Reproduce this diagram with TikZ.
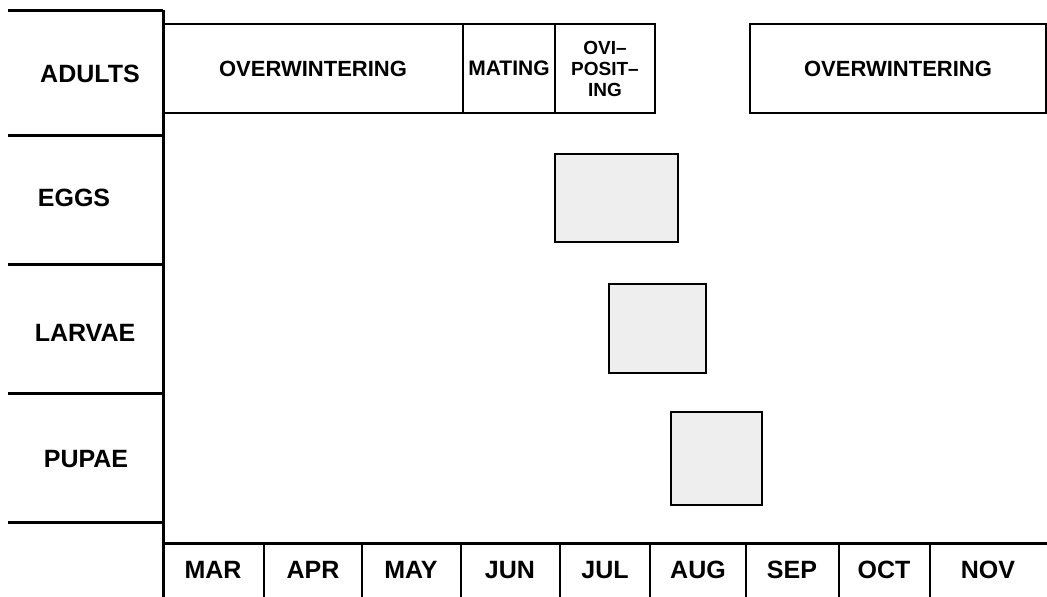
\documentclass[tikz,border=0pt]{standalone}
\usepackage{fontspec}
\setmainfont{Liberation Sans}
\definecolor{stagegray}{RGB}{238,238,238}

\begin{document}
\begin{tikzpicture}[x=1pt,y=-1pt,
  axisline/.style={line width=3pt},
  lab/.style={font=\bfseries\fontsize{25}{28}\selectfont},
  phase/.style={draw,line width=1.6pt,inner sep=0pt,font=\bfseries\fontsize{22}{24}\selectfont,align=center},
  stagebox/.style={draw,line width=2pt,fill=stagegray}]
  \useasboundingbox (0,0) rectangle (1047,597);
  % frame of the chart
  \foreach \y in {10,135,264,393,522}
    \draw[axisline] (8,\y) -- (163,\y);
  \draw[axisline] (163,10) -- (163,597);
  \draw[axisline] (163,543) -- (1047,543);
  \foreach \x in {264,362,461,560,650,746,839,930}
    \draw[line width=2.6pt] (\x,543) -- (\x,597);
  % stages and months
  \foreach \s/\x/\y in {ADULTS/90/74,EGGS/74/198,LARVAE/85/333,PUPAE/86/459}
    \node[lab] (\s) at (\x,\y) {\s};
  \foreach \m/\x in {MAR/213,APR/313,MAY/411,JUN/510,JUL/605,AUG/698,SEP/792,OCT/884,NOV/988}
    \node[lab] (\m) at (\x,570) {\m};
  % adult activity
  \node[phase,minimum width=300,minimum height=89] (winterA) at (313,68.5) {OVERWINTERING};
  \node[phase,minimum width=92,minimum height=89] (mating) at (509,68.5) {};
  \node[font=\bfseries\fontsize{21}{24}\selectfont] at (mating) {MATING};
  \node[phase,minimum width=100,minimum height=89,font=\bfseries\fontsize{19}{21}\selectfont] (ovi) at (605,68.5) {OVI--\\POSIT--\\ING};
  \node[phase,minimum width=296,minimum height=89] (winterB) at (898,68.5) {OVERWINTERING};
  % eggs, larvae, pupae
  \draw[stagebox] (555,154) rectangle (678,242);
  \draw[stagebox] (609,284) rectangle (706,373);
  \draw[stagebox] (671,412) rectangle (762,505);
\end{tikzpicture}
\end{document}
